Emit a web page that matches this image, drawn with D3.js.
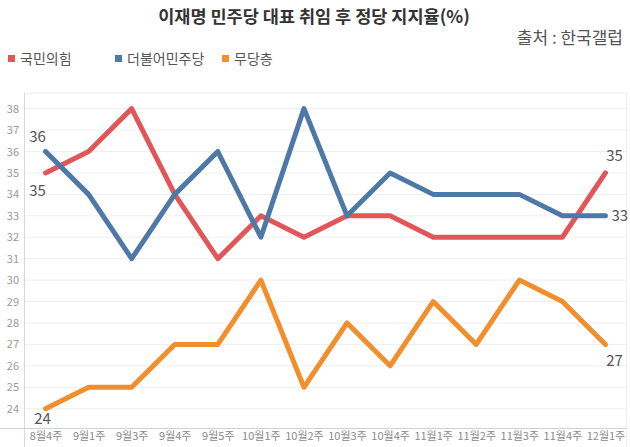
<!DOCTYPE html>
<html><head><meta charset="utf-8">
<script src="https://cdn.jsdelivr.net/npm/d3@7"></script>
<style>body{margin:0;background:#fff;}svg{display:block;font-family:"Noto Sans CJK KR","Noto Sans",sans-serif;}</style>
</head><body>
<svg id="c" width="630" height="447"></svg>
<script>
const categories = ["8월4주","9월1주","9월3주","9월4주","9월5주","10월1주","10월2주","10월3주","10월4주","11월1주","11월2주","11월3주","11월4주","12월1주"];
const ppp = [35,36,38,34,31,33,32,33,33,32,32,32,32,35];
const dem = [36,34,31,34,36,32,38,33,35,34,34,34,33,33];
const none = [24,25,25,27,27,30,25,28,26,29,27,30,29,27];
const yTicks = [24,25,26,27,28,29,30,31,32,33,34,35,36,37,38];
const seriesNames = ["국민의힘","더불어민주당","무당층"];
const colors = ["#e15759","#4e79a7","#f28e2b"];
const title = "이재명 민주당 대표 취임 후 정당 지지율(%)";
const source = "출처 : 한국갤럽";

const svg = d3.select("#c");
const L=24,R=627,T=93,B=428;
const x = d3.scalePoint().domain(categories).range([L,R]).padding(0.5);
const y = d3.scaleLinear().domain([23.1,38.73]).range([B,T]);

// grid
svg.append("g").selectAll("line").data(yTicks).join("line")
  .attr("x1",L).attr("x2",R).attr("y1",d=>y(d)).attr("y2",d=>y(d))
  .attr("stroke","#efefef").attr("stroke-width",1);
svg.append("line").attr("x1",L).attr("x2",R).attr("y1",T).attr("y2",T).attr("stroke","#eeeeee");
svg.append("line").attr("x1",L+0.5).attr("x2",L+0.5).attr("y1",T).attr("y2",447).attr("stroke","#d8d8d8");
svg.append("line").attr("x1",0).attr("x2",R).attr("y1",B+0.5).attr("y2",B+0.5).attr("stroke","#d0d0d0");
svg.append("line").attr("x1",R-0.5).attr("x2",R-0.5).attr("y1",T).attr("y2",447).attr("stroke","#eeeeee");

// y axis labels
const ya = svg.append("g").attr("transform",`translate(${L},0)`).call(d3.axisLeft(y).tickValues(yTicks).tickSize(0).tickPadding(5));
ya.select(".domain").remove();
ya.selectAll("text").attr("fill","#9a9a9a").style("font-size","11px").style("font-family","'Noto Sans CJK KR',sans-serif");

// x axis labels
const xa = svg.append("g").attr("transform",`translate(0,${B})`).call(d3.axisBottom(x).tickSize(0).tickPadding(4));
xa.select(".domain").remove();
xa.selectAll("text").attr("fill","#8a8a8a").style("font-size","11px").style("font-family","'Noto Sans CJK KR',sans-serif");

const data = [ppp,dem,none];
const line = d3.line().x((d,i)=>x(categories[i])).y(d=>y(d));
data.forEach((s,k)=>{
  svg.append("path").datum(s).attr("d",line).attr("fill","none")
    .attr("stroke",colors[k]).attr("stroke-width",5).attr("stroke-linejoin","round").attr("stroke-linecap","round");
});

// data labels
const lab = (txt,xx,yy,anchor)=>svg.append("text").text(txt).attr("x",xx).attr("y",yy)
  .attr("text-anchor",anchor||"middle").attr("fill","#555").style("font-size","15px");
const first=categories[0], last=categories[categories.length-1];
lab(dem[0], x(first)-8, y(dem[0])-10);
lab(ppp[0], x(first)-8, y(ppp[0])+23);
lab(none[0], x(first)-3, y(none[0])+15);
lab(ppp[13], x(last)+9, y(ppp[13])-12);
lab(dem[13], x(last)+6, y(dem[13])+5, "start");
lab(none[13], x(last)+9, y(none[13])+22);

// title
svg.append("text").text(title).attr("x",314).attr("y",23).attr("text-anchor","middle")
  .attr("fill","#333").style("font-size","17.5px").style("font-weight","bold");
svg.append("text").text(source).attr("x",623).attr("y",44).attr("text-anchor","end")
  .attr("fill","#555").style("font-size","17px");

// legend
const lx=[8,115,222];
seriesNames.forEach((n,i)=>{
  svg.append("rect").attr("x",lx[i]).attr("y",55).attr("width",7).attr("height",7).attr("fill",colors[i]);
  svg.append("text").text(n).attr("x",lx[i]+12).attr("y",63.5).attr("fill","#555").style("font-size","14px");
});
</script>
</body></html>
